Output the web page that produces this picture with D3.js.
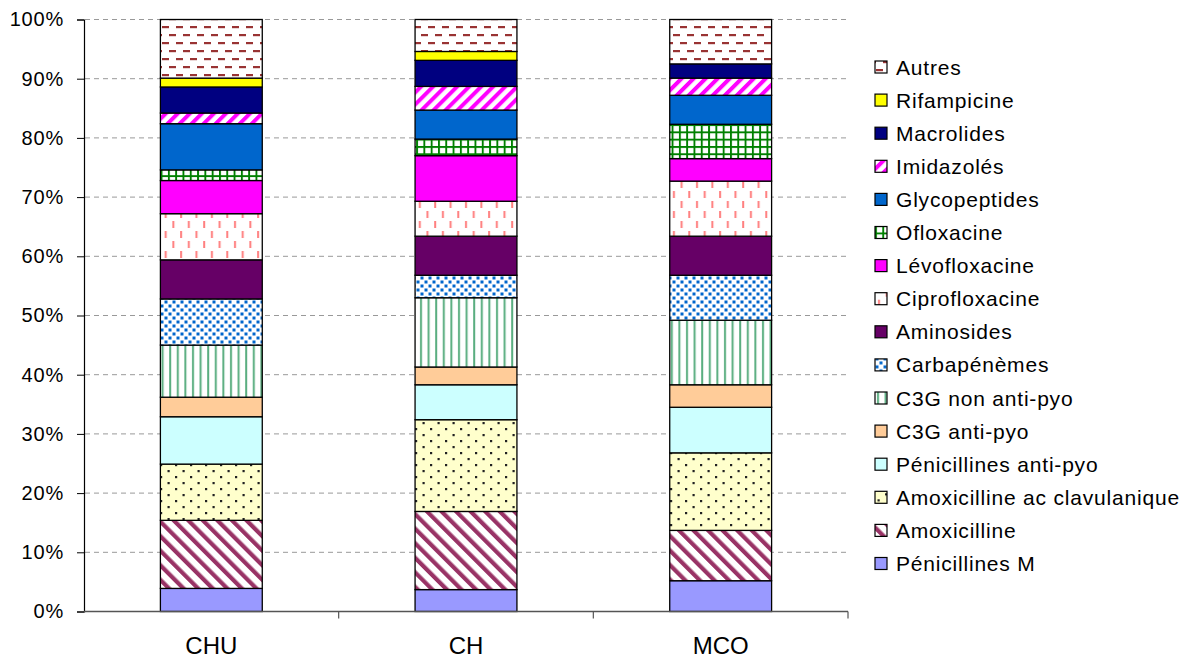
<!DOCTYPE html>
<html><head><meta charset="utf-8">
<script src="https://cdn.jsdelivr.net/npm/d3@7"></script>
<style>body{margin:0;background:#fff} text{font-family:"Liberation Sans",Arial,sans-serif;fill:#000}</style>
</head><body><svg id="c" width="1189" height="659"></svg>
<script>
const categories = ["CHU", "CH", "MCO"];
const seriesNames = ["Pénicillines M", "Amoxicilline", "Amoxicilline ac clavulanique", "Pénicillines anti-pyo", "C3G anti-pyo", "C3G non anti-pyo", "Carbapénèmes", "Aminosides", "Ciprofloxacine", "Lévofloxacine", "Ofloxacine", "Glycopeptides", "Imidazolés", "Macrolides", "Rifampicine", "Autres"];
const valuesCHU = [3.9, 11.5, 9.5, 8.0, 3.3, 8.8, 7.8, 6.6, 7.8, 5.6, 1.8, 7.8, 1.8, 4.4, 1.5, 9.9];
const valuesCH  = [3.7, 13.2, 15.5, 5.9, 3.0, 11.7, 3.8, 6.6, 5.9, 7.7, 2.8, 4.9, 4.0, 4.4, 1.5, 5.4];
const valuesMCO = [5.2, 8.5, 13.1, 7.7, 3.8, 10.9, 7.6, 6.6, 9.3, 3.8, 5.8, 4.9, 2.9, 2.4, 0.0, 7.5];
const yTickValues = [0, 10, 20, 30, 40, 50, 60, 70, 80, 90, 100];

const svg = d3.select("#c");
const defs = svg.append("defs");

function pat(id, w, h, bg, transform) {
  const p = defs.append("pattern").attr("id", id).attr("patternUnits", "userSpaceOnUse")
    .attr("width", w).attr("height", h);
  if (transform) p.attr("patternTransform", transform);
  p.append("rect").attr("width", w).attr("height", h).attr("fill", bg);
  return p;
}
// Autres: horizontal dashes
let p = pat("pAutres", 14, 16, "#fff");
p.append("rect").attr("x", 1).attr("y", 2).attr("width", 7).attr("height", 2.2).attr("fill", "#993333");
p.append("rect").attr("x", 8).attr("y", 10).attr("width", 7).attr("height", 2.2).attr("fill", "#993333");
p.append("rect").attr("x", -6).attr("y", 10).attr("width", 7).attr("height", 2.2).attr("fill", "#993333");
// Imidazolés: / stripes magenta
p = pat("pImid", 8.5, 8.5, "#fff", "rotate(45)");
p.append("rect").attr("width", 4).attr("height", 8.5).attr("fill", "#FF00FF");
// Ofloxacine: green grid
p = pat("pOflo", 7.3, 7.3, "#fff");
p.append("rect").attr("width", 1.9).attr("height", 7.3).attr("fill", "#008000");
p.append("rect").attr("width", 7.3).attr("height", 1.9).attr("fill", "#008000");
// Ciprofloxacine: vertical dashes salmon
p = pat("pCipro", 15.4, 20, "#fff");
p.append("rect").attr("x", 3).attr("y", 1).attr("width", 2).attr("height", 7).attr("fill", "#FF8080");
p.append("rect").attr("x", 10.7).attr("y", 11).attr("width", 2).attr("height", 7).attr("fill", "#FF8080");
// Carbapénèmes: blue confetti
p = pat("pCarba", 8, 8, "#fff");
p.append("rect").attr("x", 0.5).attr("y", 0.5).attr("width", 3).attr("height", 3).attr("fill", "#0066CC");
p.append("rect").attr("x", 4.5).attr("y", 4.5).attr("width", 3).attr("height", 3).attr("fill", "#0066CC");
// C3G non anti-pyo: vertical green lines
p = pat("pC3Gn", 7.6, 10, "#fff");
p.append("rect").attr("x", 2).attr("width", 2).attr("height", 10).attr("fill", "#5AAE80");
// Amox ac clav: yellow with dots
p = pat("pAmoxClav", 15, 12, "#FFFFCC");
p.append("rect").attr("x", 2.5).attr("y", 2).attr("width", 2.2).attr("height", 2.2).attr("fill", "#222");
p.append("rect").attr("x", 10).attr("y", 8).attr("width", 2.2).attr("height", 2.2).attr("fill", "#222");
// Amoxicilline: \ stripes
p = pat("pAmox", 10.3, 10.3, "#fff", "rotate(-45)");
p.append("rect").attr("width", 4.2).attr("height", 10.3).attr("fill", "#993366");

const fills = ["#9999FF", "url(#pAmox)", "url(#pAmoxClav)", "#CCFFFF", "#FFCC99", "url(#pC3Gn)", "url(#pCarba)", "#660066", "url(#pCipro)", "#FF00FF", "url(#pOflo)", "#0066CC", "url(#pImid)", "#000080", "#FFFF00", "url(#pAutres)"];

const valuesByCat = [valuesCHU, valuesCH, valuesMCO];
const table = categories.map((c, i) => {
  const row = {cat: c};
  seriesNames.forEach((s, j) => row[s] = valuesByCat[i][j]);
  return row;
});
const stacked = d3.stack().keys(seriesNames)(table);

const x = d3.scaleBand().domain(categories).range([84, 848]).paddingInner(0.6).paddingOuter(0.3);
const y = d3.scaleLinear().domain([0, 100]).range([611.5, 19.5]);
const bound = d3.scaleLinear().domain([0, categories.length]).range([84, 848]);

// gridlines
svg.append("g").selectAll("line").data(yTickValues.filter(d => d > 0)).join("line")
  .attr("x1", 85).attr("x2", 848).attr("y1", d => y(d)).attr("y2", d => y(d))
  .attr("stroke", "#999").attr("stroke-width", 1).attr("stroke-dasharray", "5,4");

// bars
svg.append("g").selectAll("g").data(stacked).join("g")
  .attr("fill", (d, i) => fills[i])
  .selectAll("rect").data(d => d.filter(s => s[1] - s[0] > 0)).join("rect")
  .attr("x", d => x(d.data.cat)).attr("width", x.bandwidth())
  .attr("y", d => y(d[1])).attr("height", d => y(d[0]) - y(d[1]))
  .attr("stroke", "#000").attr("stroke-width", 1.3);

// y axis
const yAxis = svg.append("g").attr("transform", "translate(84,0)")
  .call(d3.axisLeft(y).tickValues(yTickValues).tickFormat(d => d + "%").tickSize(7).tickPadding(13));
yAxis.select(".domain").attr("stroke", "#000").attr("stroke-width", 1.2);
yAxis.selectAll(".tick line").attr("stroke", "#000");
yAxis.selectAll(".tick text").attr("font-size", 20).attr("font-family", "Liberation Sans, Arial, sans-serif").attr("letter-spacing", 0.8);

// x axis
svg.append("line").attr("x1", 84).attr("x2", 848).attr("y1", y(0)).attr("y2", y(0)).attr("stroke", "#555").attr("stroke-width", 1.5);
svg.append("g").selectAll("line").data(d3.range(1, categories.length + 1)).join("line")
  .attr("x1", d => bound(d)).attr("x2", d => bound(d)).attr("y1", y(0)).attr("y2", y(0) + 7)
  .attr("stroke", "#555").attr("stroke-width", 1.2);
svg.append("g").selectAll("text").data(categories).join("text")
  .attr("x", d => x(d) + x.bandwidth() / 2).attr("y", 654)
  .attr("text-anchor", "middle").attr("font-size", 24).text(d => d);

// legend
const legendItems = seriesNames.map((s, i) => ({name: s, fill: fills[i]})).reverse();
const lg = svg.append("g").selectAll("g").data(legendItems).join("g")
  .attr("transform", (d, i) => `translate(875,${67 + i * 33.1})`);
lg.append("rect").attr("x", 0).attr("y", -6).attr("width", 12).attr("height", 12)
  .attr("fill", d => d.fill).attr("stroke", "#000").attr("stroke-width", 1.2);
lg.append("text").attr("x", 21).attr("y", 0).attr("dy", "0.36em").attr("font-size", 21)
  .attr("letter-spacing", 0.8).text(d => d.name);
</script></body></html>
